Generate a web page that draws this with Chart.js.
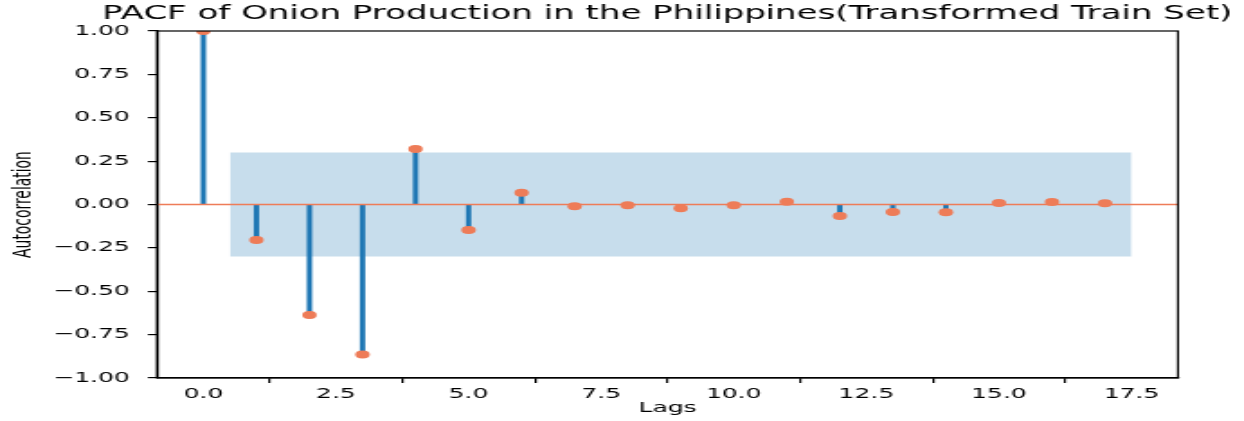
<!DOCTYPE html>
<html lang="en">
<head>
  <meta charset="UTF-8">
  <title>PACF of Onion Production</title>
  <style>
    html, body {
      margin: 0;
      padding: 0;
      background: #fff;
      overflow: hidden;
    }
    /* the source figure is a plot stretched sideways, so draw narrow and stretch */
    #wrap {
      width: 691px;
      height: 421px;
      transform: scaleX(1.8);
      transform-origin: 0 0;
    }
  </style>
  <script src="https://cdn.jsdelivr.net/npm/chart.js"></script>
</head>
<body>
  <div id="wrap"><canvas id="pacfChart" width="691" height="421"></canvas></div>

  <script>
    // data
    const lags = [0, 1, 2, 3, 4, 5, 6, 7, 8, 9, 10, 11, 12, 13, 14, 15, 16, 17];
    const pacfValues = [1.0, -0.205, -0.637, -0.864, 0.32, -0.147, 0.068, -0.01, -0.005,
                        -0.022, -0.005, 0.016, -0.066, -0.043, -0.045, 0.009, 0.014, 0.007];
    const bandLags = [0.5, 17.5];
    const bandUpper = [0.3, 0.3];
    const bandLower = [-0.3, -0.3];
    const xLimits = [-0.875, 18.375];
    const xTicks = [0, 2.5, 5, 7.5, 10, 12.5, 15, 17.5];
    const yTicks = [-1, -0.75, -0.5, -0.25, 0, 0.25, 0.5, 0.75, 1];
    const titleText = 'PACF of Onion Production in the Philippines(Transformed Train Set)';

    const stemColor = '#1f77b4';
    const markColor = 'rgb(238, 124, 88)';
    const bandColor = 'rgba(31, 119, 180, 0.25)';
    const tickFont = { family: 'DejaVu Sans', size: 13.9 };

    // top/right spines and the title centred over the axes
    const framePlugin = {
      id: 'frame',
      afterDraw(chart) {
        const { ctx, chartArea: a } = chart;
        ctx.save();
        ctx.strokeStyle = '#000';
        ctx.lineWidth = 1.2;
        ctx.strokeRect(a.left, a.top, a.right - a.left, a.bottom - a.top);
        ctx.fillStyle = '#000';
        ctx.font = '18.9px "DejaVu Sans"';
        ctx.textAlign = 'center';
        ctx.textBaseline = 'middle';
        ctx.fillText(titleText, (a.left + a.right) / 2, 14);
        ctx.restore();
      }
    };

    const fmtY = v => (v < 0 ? '\u2212' : '') + Math.abs(v).toFixed(2);

    new Chart(document.getElementById('pacfChart'), {
      type: 'line',
      data: {
        datasets: [
          {
            label: 'pacf',
            data: lags.map((x, i) => ({ x, y: pacfValues[i] })),
            showLine: false,
            pointRadius: 4,
            pointBackgroundColor: markColor,
            pointBorderWidth: 0,
            clip: 0
          },
          {
            label: 'zero',
            data: xLimits.map(x => ({ x, y: 0 })),
            borderColor: markColor,
            borderWidth: 1.5,
            pointRadius: 0
          },
          {
            type: 'bar',
            label: 'stems',
            data: lags.map((x, i) => ({ x, y: pacfValues[i] })),
            backgroundColor: stemColor,
            borderWidth: 0,
            barThickness: 2.3
          },
          {
            label: 'upper',
            data: bandLags.map((x, i) => ({ x, y: bandUpper[i] })),
            borderWidth: 0,
            pointRadius: 0,
            backgroundColor: bandColor,
            fill: '+1'
          },
          {
            label: 'lower',
            data: bandLags.map((x, i) => ({ x, y: bandLower[i] })),
            borderWidth: 0,
            pointRadius: 0
          }
        ]
      },
      options: {
        responsive: false,
        animation: false,
        devicePixelRatio: 1,
        layout: { padding: { left: 0, right: 36.6, top: 31, bottom: 0 } },
        plugins: {
          legend: { display: false },
          tooltip: { enabled: false },
          title: { display: false }
        },
        scales: {
          x: {
            type: 'linear',
            min: xLimits[0],
            max: xLimits[1],
            offset: false,
            afterBuildTicks: s => { s.ticks = xTicks.map(v => ({ value: v })); },
            afterFit: s => { s.height = 43; },
            ticks: {
              callback: v => v.toFixed(1),
              color: '#000',
              font: tickFont,
              padding: 3,
              maxRotation: 0,
              autoSkip: false
            },
            grid: { drawOnChartArea: false, drawTicks: true, tickLength: 5, color: '#000', lineWidth: 1.2 },
            border: { display: true, color: '#000', width: 1.2 },
            title: {
              display: true,
              text: 'Lags',
              color: '#000',
              font: tickFont,
              padding: { top: 0, bottom: 4 }
            }
          },
          y: {
            min: -1,
            max: 1,
            afterBuildTicks: s => { s.ticks = yTicks.map(v => ({ value: v })); },
            afterFit: s => { s.width = 87.2; },
            ticks: {
              callback: fmtY,
              color: '#000',
              font: tickFont,
              padding: 10,
              autoSkip: false
            },
            grid: { drawOnChartArea: false, drawTicks: true, tickLength: 5, color: '#000', lineWidth: 1.2 },
            border: { display: true, color: '#000', width: 1.2 },
            title: {
              display: true,
              text: 'Autocorrelation',
              color: '#000',
              font: tickFont,
              padding: { top: 5, bottom: 0 }
            }
          }
        }
      },
      plugins: [framePlugin]
    });
  </script>
</body>
</html>
